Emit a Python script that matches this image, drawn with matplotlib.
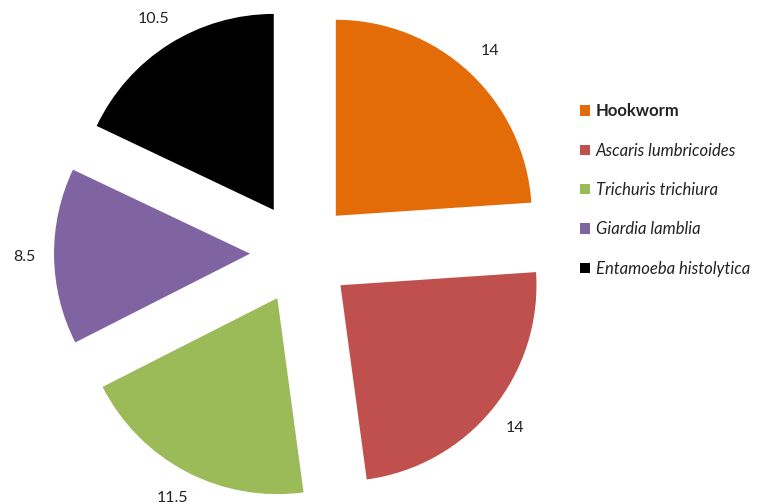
import matplotlib.pyplot as plt
from matplotlib.patches import Patch

species = ['Hookworm', 'Ascaris lumbricoides', 'Trichuris trichiura',
           'Giardia lamblia', 'Entamoeba histolytica']
prevalence = [14, 14, 11.5, 8.5, 10.5]
colors = ['#E36C09', '#C0504D', '#9BBB59', '#8064A2', '#000000']
total = sum(prevalence)

plt.rcParams['font.family'] = ['Lato', 'DejaVu Sans']

W, H = 771, 504
fig = plt.figure(figsize=(W / 100, H / 100), dpi=100)
ax = fig.add_axes([0, 0, 1, 1])

# pie centre and radius in pixels
cx, cy, r = 301, 253, 196
ax.pie(prevalence, colors=colors, startangle=90, counterclock=False,
       explode=[0.26] * len(prevalence), radius=1, center=(0, 0),
       autopct=lambda p: f'{p * total / 100:g}', pctdistance=1.15,
       textprops={'fontsize': 11.5, 'color': '#222222'},
       wedgeprops={'linewidth': 0})
ax.set_xlim(-cx / r, (W - cx) / r)
ax.set_ylim(-(H - cy) / r, cy / r)
ax.set_aspect('auto')
ax.axis('off')

handles = [Patch(facecolor=c, edgecolor='none') for c in colors]
leg = ax.legend(handles, species, loc='center left',
                bbox_to_anchor=(580 / W, 1 - 190 / H), bbox_transform=fig.transFigure,
                frameon=False, fontsize=12, handlelength=0.6, handleheight=0.6,
                handletextpad=0.35, labelspacing=1.4, borderpad=0, borderaxespad=0)
for i, t in enumerate(leg.get_texts()):
    t.set_color('#222222')
    if i == 0:
        t.set_fontweight('bold')
    else:
        t.set_fontstyle('italic')

fig.savefig('out.png', dpi=100)
